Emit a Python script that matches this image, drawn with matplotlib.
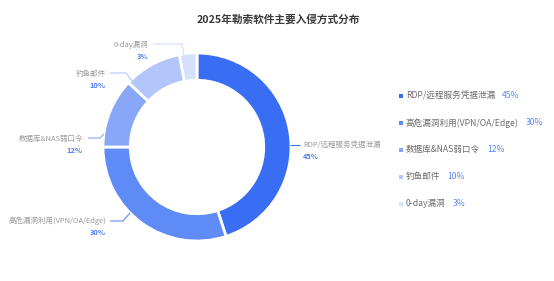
import matplotlib.pyplot as plt

plt.rcParams['font.family'] = ['Noto Sans CJK SC', 'DejaVu Sans']

# data
title = '2025年勒索软件主要入侵方式分布'
categories = ['RDP/远程服务凭据泄漏', '高危漏洞利用(VPN/OA/Edge)', '数据库&NAS弱口令', '钓鱼邮件', '0-day漏洞']
shares = [45, 30, 12, 10, 3]
colors = ['#386df4', '#5f8bf7', '#88a7f8', '#b2c6fb', '#d5e0fd']

# layout (pixels in a 554x281 canvas)
W, H = 554, 281
cx, cy, R = 197, 147, 94
# leader line polylines and label anchors for each slice
leader_lines = [
    [(290, 145), (300, 145)],
    [(130, 213), (123, 221), (110, 221)],
    [(104, 134), (100, 138), (88, 138)],
    [(132, 81), (126, 73), (110, 73)],
    [(184, 56), (182, 44), (153, 44)],
]
label_pos = [(303, 'left'), (106, 'right'), (83, 'right'), (106, 'right'), (148, 'right')]
label_y = [145, 221, 139, 74, 45]

fig = plt.figure(figsize=(W / 100, H / 100), dpi=100)

ax = fig.add_axes([(cx - R) / W, (H - cy - R) / H, 2 * R / W, 2 * R / H])
ax.pie(shares, colors=colors, startangle=90, counterclock=False, radius=1,
       wedgeprops=dict(width=0.29, edgecolor='white', linewidth=2.0))
ax.set_xlim(-1, 1)
ax.set_ylim(-1, 1)
ax.axis('off')

ov = fig.add_axes([0, 0, 1, 1], zorder=5)
ov.set_xlim(0, W)
ov.set_ylim(H, 0)
ov.axis('off')
ov.patch.set_alpha(0)

ov.text(W / 2 + 1, 19, title, ha='center', va='center', fontsize=7.7, color='#3a3a3a',
        fontweight='bold')

for i, (name, val) in enumerate(zip(categories, shares)):
    pts = leader_lines[i]
    ov.plot([p[0] for p in pts], [p[1] for p in pts], color=colors[i], lw=0.8,
            solid_capstyle='butt')
    x, ha = label_pos[i]
    y = label_y[i]
    ov.text(x, y, name, ha=ha, va='center', fontsize=5.4, color='#9a9a9a')
    ov.text(x, y + 11.5, f'{val}%', ha=ha, va='center', fontsize=5.4,
            color='#4f7ff6', fontweight='bold')

# legend
leg_x, leg_y0, leg_dy = 400.5, 96, 26.9
for i, (name, val) in enumerate(zip(categories, shares)):
    y = leg_y0 + i * leg_dy
    ov.scatter([leg_x], [y], marker='s', s=9, color=colors[i], linewidths=0)
    t = ov.text(leg_x + 5.5, y, name, ha='left', va='center', fontsize=6.2, color='#6b6b6b')
    fig.canvas.draw()
    bb = t.get_window_extent()
    x_end = bb.x1 / fig.dpi * 100
    ov.text(x_end + 7, y, f'{val}%', ha='left', va='center', fontsize=6.2, color='#5a88f6')

fig.savefig('out.png', dpi=100)
